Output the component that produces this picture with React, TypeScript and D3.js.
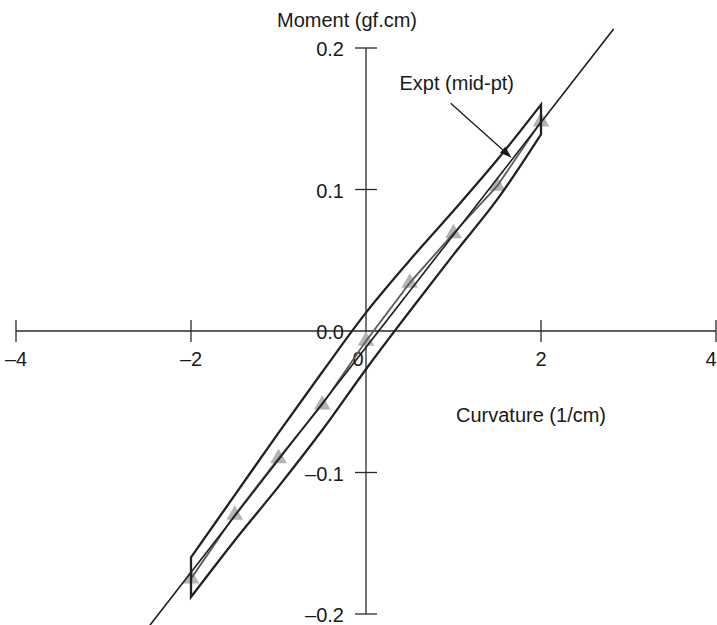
import React from 'react';
import * as d3 from 'd3';

const W = 717;
const H = 625;

// curvature sample positions (1/cm)
const curvature = [-2, -1.5, -1, -0.5, 0, 0.5, 1, 1.5, 2];
// experimental mid-point moments (gf.cm)
const midMoment = [-0.175, -0.13, -0.09, -0.052, -0.007, 0.034, 0.069, 0.1025, 0.148];
// loading branch of the hysteresis loop
const loadMoment = [-0.16, -0.116, -0.072, -0.029, 0.013, 0.05, 0.085, 0.121, 0.16];
// unloading branch of the hysteresis loop
const unloadMoment = [-0.188, -0.148, -0.11, -0.07, -0.027, 0.014, 0.054, 0.093, 0.139];
// straight reference line end points
const lineCurv = [-2.47, 2.83];
const lineMoment = [-0.2079, 0.2135];

// annotation arrow (start, tip) in data units
const arrowFrom = [0.968, 0.161];
const arrowTo = [1.664, 0.1225];

const xTicks = [-4, -2, 0, 2, 4];
const xTickLabels = ['\u20134', '\u20132', '0', '2', '4'];
const yTicks = [-0.2, -0.1, 0, 0.1, 0.2];
const yTickLabels = ['\u20130.2', '\u20130.1', '0.0', '0.1', '0.2'];

const FONT = '"Liberation Sans", Arial, Helvetica, sans-serif';

export default function App() {
  const x = d3.scaleLinear().domain([-4, 4]).range([16, 716]);
  const y = d3.scaleLinear().domain([-0.2, 0.2]).range([614, 48]);

  const pts = (ms: number[]) => curvature.map((c, i) => [c, ms[i]] as [number, number]);
  const line = d3
    .line<[number, number]>()
    .x((d) => x(d[0]))
    .y((d) => y(d[1]))
    .curve(d3.curveCatmullRom.alpha(0.5));
  const straight = d3
    .line<[number, number]>()
    .x((d) => x(d[0]))
    .y((d) => y(d[1]));

  const upperPath = line(pts(loadMoment)) || '';
  const lowerPath = (line(pts(unloadMoment).slice().reverse()) || '').replace(/^M/, 'L');
  const loopPath = upperPath + lowerPath + 'Z';

  const midPath = straight(pts(midMoment)) || '';
  const refPath = straight(lineCurv.map((c, i) => [c, lineMoment[i]] as [number, number])) || '';

  const tri = d3.symbol().type(d3.symbolTriangle).size(120)() || '';

  // arrow geometry
  const ax0 = x(arrowFrom[0]);
  const ay0 = y(arrowFrom[1]);
  const ax1 = x(arrowTo[0]);
  const ay1 = y(arrowTo[1]);
  const ang = Math.atan2(ay1 - ay0, ax1 - ax0);
  const headLen = 12;
  const headHalf = 4;
  const bx = ax1 - headLen * Math.cos(ang);
  const by = ay1 - headLen * Math.sin(ang);
  const head = [
    [ax1, ay1],
    [bx + headHalf * Math.sin(ang), by - headHalf * Math.cos(ang)],
    [bx - headHalf * Math.sin(ang), by + headHalf * Math.cos(ang)],
  ]
    .map((p) => p.join(','))
    .join(' ');

  const x0 = x(0);
  const y0 = y(0);

  const xLabelX = (t: number) => (t === 0 ? x(t) - 8 : t === 4 ? x(t) - 5 : x(t));

  return (
    <div style={{ position: 'absolute', left: 0, top: 0 }}>
      <svg width={W} height={H} style={{ display: 'block', background: '#fff' }} fontFamily={FONT}>
        <defs>
          <filter id="soft" x="-30%" y="-30%" width="160%" height="160%">
            <feGaussianBlur stdDeviation={0.7} />
          </filter>
        </defs>

        {/* axes */}
        <g stroke="#2a2a2a" strokeWidth={1.3} fill="none">
          <line x1={x(-4)} x2={x(4)} y1={y0} y2={y0} />
          <line x1={x0} x2={x0} y1={y(0.2)} y2={y(-0.2)} />
          {xTicks
            .filter((t) => t !== 0)
            .map((t) => (
              <line key={'xt' + t} x1={x(t)} x2={x(t)} y1={y0 - 11} y2={y0 + 11} />
            ))}
          {yTicks
            .filter((t) => t !== 0)
            .map((t) => (
              <line key={'yt' + t} x1={x0 - 11} x2={x0 + 11} y1={y(t)} y2={y(t)} />
            ))}
        </g>
        <g fontSize={20} fill="#1a1a1a">
          {xTicks.map((t, i) => (
            <text key={'xl' + t} x={xLabelX(t)} y={y0 + 35} textAnchor="middle">
              {xTickLabels[i]}
            </text>
          ))}
          {yTicks.map((t, i) => (
            <text key={'yl' + t} x={344} y={y(t) + 8} textAnchor="end">
              {yTickLabels[i]}
            </text>
          ))}
          <text x={347} y={27} textAnchor="middle">
            Moment (gf.cm)
          </text>
          <text x={531} y={422} textAnchor="middle">
            Curvature (1/cm)
          </text>
          <text x={514} y={90} textAnchor="end">
            Expt (mid-pt)
          </text>
        </g>

        {/* experimental mid-point markers */}
        <g fill="#b4b4b4" filter="url(#soft)">
          {curvature.map((c, i) => (
            <path key={'tr' + c} d={tri} transform={`translate(${x(c)},${y(midMoment[i])})`} />
          ))}
        </g>
        <path d={midPath} fill="none" stroke="#5a5a5a" strokeWidth={1.8} />

        {/* straight reference line */}
        <path d={refPath} fill="none" stroke="#1e1e1e" strokeWidth={1.6} />

        {/* hysteresis loop */}
        <path d={loopPath} fill="none" stroke="#222" strokeWidth={2.3} strokeLinejoin="miter" />

        {/* annotation arrow */}
        <line x1={ax0} y1={ay0} x2={bx} y2={by} stroke="#1a1a1a" strokeWidth={1.3} />
        <polygon points={head} fill="#1a1a1a" />
      </svg>
    </div>
  );
}
